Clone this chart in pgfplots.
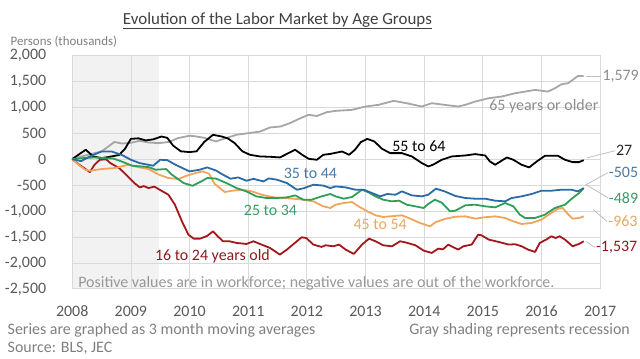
\documentclass[border=0pt]{standalone}
\usepackage{pgfplots}
\pgfplotsset{compat=1.18}
\usepackage{fontspec}
\setmainfont{Carlito}
\definecolor{gridgray}{HTML}{D9D9D9}
\definecolor{shadegray}{HTML}{F2F2F2}
\definecolor{ticktext}{HTML}{595959}
\definecolor{notetext}{HTML}{7F7F7F}
\definecolor{c65}{HTML}{A6A6A6}
\definecolor{c55}{HTML}{000000}
\definecolor{c35}{HTML}{2A6BA6}
\definecolor{c25}{HTML}{2E9E58}
\definecolor{c45}{HTML}{F2A55A}
\definecolor{c16}{HTML}{A3161B}
\definecolor{l35}{HTML}{4A78A8}
\definecolor{l25}{HTML}{3A9A68}
\definecolor{l45}{HTML}{E3A865}
\definecolor{l16}{HTML}{8B1A1E}
\definecolor{l65}{HTML}{8C8C8C}
\definecolor{leader}{HTML}{BFBFBF}

\pgfplotstableread{
x y
2008.00 0
2008.15 50
2008.27 83
2008.50 147
2008.72 330
2008.85 300
2009.00 314
2009.15 352
2009.30 320
2009.47 307
2009.65 330
2009.80 404
2010.00 450
2010.12 435
2010.25 410
2010.45 340
2010.62 404
2010.80 468
2011.00 500
2011.20 530
2011.37 609
2011.55 628
2011.71 692
2011.89 788
2012.03 853
2012.17 830
2012.34 904
2012.50 930
2012.77 949
2013.00 1013
2013.22 1045
2013.48 1122
2013.70 1077
2013.96 1013
2014.13 1077
2014.35 1045
2014.58 1013
2014.70 1045
2014.87 1109
2015.10 1173
2015.32 1205
2015.55 1269
2015.89 1333
2016.11 1301
2016.23 1365
2016.34 1442
2016.45 1461
2016.53 1525
2016.62 1600
2016.72 1600
}\tsixtyfive

\pgfplotstableread{
x y
2008.00 0
2008.10 80
2008.23 180
2008.36 50
2008.50 20
2008.62 40
2008.80 80
2008.90 200
2009.00 390
2009.13 400
2009.25 360
2009.38 380
2009.52 435
2009.62 410
2009.72 260
2009.85 150
2010.00 135
2010.12 150
2010.25 330
2010.40 468
2010.55 435
2010.65 400
2010.77 307
2010.90 150
2011.03 83
2011.20 51
2011.37 45
2011.54 32
2011.66 100
2011.80 180
2011.92 83
2012.03 6
2012.17 -13
2012.28 83
2012.40 100
2012.60 147
2012.72 83
2012.82 180
2012.92 327
2013.03 390
2013.15 340
2013.28 200
2013.42 115
2013.62 115
2013.79 51
2013.96 -77
2014.07 -141
2014.15 -109
2014.30 -13
2014.47 51
2014.70 70
2014.87 96
2015.04 70
2015.12 -45
2015.21 -109
2015.30 -45
2015.41 32
2015.52 -13
2015.66 -109
2015.79 -160
2015.92 -45
2016.06 64
2016.28 64
2016.40 -13
2016.53 -58
2016.64 -58
2016.72 -20
}\tfiftyfive

\pgfplotstableread{
x y
2008.00 0
2008.15 -40
2008.30 51
2008.50 147
2008.67 147
2008.84 83
2009.00 -13
2009.15 -77
2009.38 -128
2009.50 -13
2009.62 -20
2009.76 -109
2010.00 -237
2010.17 -205
2010.30 -160
2010.45 -220
2010.57 -301
2010.70 -378
2010.83 -353
2010.97 -417
2011.09 -380
2011.26 -430
2011.35 -372
2011.49 -397
2011.66 -462
2011.83 -590
2011.95 -560
2012.11 -494
2012.28 -510
2012.40 -558
2012.49 -526
2012.66 -545
2012.83 -590
2012.97 -590
2013.11 -654
2013.25 -718
2013.37 -673
2013.51 -686
2013.62 -622
2013.79 -699
2013.96 -718
2014.07 -686
2014.20 -570
2014.35 -622
2014.53 -710
2014.70 -750
2014.87 -763
2015.04 -763
2015.21 -801
2015.38 -814
2015.49 -750
2015.66 -718
2015.83 -673
2016.00 -609
2016.17 -609
2016.34 -590
2016.51 -590
2016.62 -622
2016.72 -560
}\tthirtyfive

\pgfplotstableread{
x y
2008.00 0
2008.20 20
2008.38 32
2008.55 19
2008.70 10
2008.84 -45
2009.02 -128
2009.17 -141
2009.30 -154
2009.42 -205
2009.60 -192
2009.70 -301
2009.90 -462
2010.05 -514
2010.20 -430
2010.30 -365
2010.45 -375
2010.63 -462
2010.80 -558
2010.97 -622
2011.14 -718
2011.31 -750
2011.48 -750
2011.66 -737
2011.80 -699
2011.94 -782
2012.08 -782
2012.25 -718
2012.40 -673
2012.49 -718
2012.63 -763
2012.77 -730
2012.94 -590
2013.05 -640
2013.17 -718
2013.30 -782
2013.45 -814
2013.57 -800
2013.70 -878
2013.85 -910
2013.99 -942
2014.07 -865
2014.18 -782
2014.30 -840
2014.44 -1006
2014.53 -994
2014.70 -891
2014.87 -878
2015.04 -910
2015.21 -930
2015.38 -846
2015.52 -910
2015.63 -1070
2015.72 -1135
2015.89 -1135
2016.06 -1070
2016.23 -942
2016.40 -878
2016.53 -750
2016.64 -654
2016.72 -560
}\ttwentyfive

\pgfplotstableread{
x y
2008.00 0
2008.12 -120
2008.22 -205
2008.30 -224
2008.50 -192
2008.72 -173
2008.96 -109
2009.12 -154
2009.30 -192
2009.48 -301
2009.64 -365
2009.81 -384
2009.95 -320
2010.10 -269
2010.22 -237
2010.33 -280
2010.43 -480
2010.60 -634
2010.72 -610
2010.89 -590
2011.06 -622
2011.23 -686
2011.43 -737
2011.60 -750
2011.77 -763
2011.94 -782
2012.11 -814
2012.28 -910
2012.40 -942
2012.49 -878
2012.63 -846
2012.77 -827
2012.88 -910
2013.03 -1006
2013.17 -1083
2013.30 -1115
2013.45 -1100
2013.62 -1083
2013.76 -1147
2013.93 -1231
2014.10 -1295
2014.20 -1212
2014.35 -1154
2014.53 -1110
2014.70 -1103
2014.87 -1147
2015.04 -1120
2015.21 -1103
2015.38 -1135
2015.52 -1199
2015.66 -1250
2015.83 -1231
2016.00 -1167
2016.17 -1038
2016.28 -955
2016.36 -942
2016.45 -1058
2016.53 -1147
2016.64 -1135
2016.72 -1103
}\tfortyfive

\pgfplotstableread{
x y
2008.00 0
2008.12 -109
2008.30 -250
2008.38 -109
2008.47 -13
2008.58 -5
2008.65 -77
2008.80 -173
2008.92 -301
2009.06 -462
2009.15 -545
2009.22 -520
2009.30 -558
2009.40 -530
2009.52 -609
2009.64 -686
2009.75 -878
2009.87 -1199
2009.98 -1455
2010.07 -1532
2010.18 -1532
2010.30 -1480
2010.40 -1391
2010.48 -1487
2010.57 -1583
2010.68 -1583
2010.80 -1615
2010.97 -1635
2011.09 -1583
2011.20 -1635
2011.37 -1711
2011.54 -1840
2011.66 -1743
2011.83 -1583
2011.91 -1506
2011.99 -1520
2012.11 -1647
2012.25 -1692
2012.32 -1660
2012.45 -1680
2012.55 -1647
2012.66 -1743
2012.80 -1827
2012.94 -1647
2013.06 -1532
2013.17 -1583
2013.30 -1660
2013.45 -1680
2013.59 -1583
2013.70 -1610
2013.85 -1660
2013.99 -1763
2014.13 -1808
2014.24 -1724
2014.32 -1740
2014.41 -1647
2014.50 -1700
2014.58 -1743
2014.67 -1679
2014.81 -1647
2014.92 -1455
2014.98 -1470
2015.10 -1551
2015.27 -1596
2015.44 -1647
2015.55 -1640
2015.66 -1679
2015.77 -1743
2015.89 -1788
2015.97 -1615
2016.08 -1551
2016.17 -1487
2016.24 -1520
2016.31 -1487
2016.40 -1551
2016.53 -1679
2016.64 -1635
2016.72 -1583
}\tsixteen

\begin{document}
\begin{tikzpicture}[x=1pt,y=1pt]
\path (0,0) rectangle (640,360);
\node[font=\fontsize{17}{19}\selectfont, text=black!75] at (276,339) {\underline{Evolution of the Labor Market by Age Groups}};
\node[anchor=west, font=\fontsize{13}{15}\selectfont, text=notetext, inner sep=0pt] at (8,318.3) {Persons (thousands)};
\node[anchor=west, font=\fontsize{16}{18}\selectfont, text=notetext, inner sep=0pt] at (5,28) {Series are graphed as 3 month moving averages};
\node[anchor=west, font=\fontsize{16}{18}\selectfont, text=notetext, inner sep=0pt] at (5,10) {Source: BLS, JEC};
\node[anchor=east, font=\fontsize{16}{18}\selectfont, text=notetext, inner sep=0pt] at (630,28) {Gray shading represents recession};
\begin{axis}[
  at={(70pt,70pt)}, anchor=south west,
  scale only axis, width=530pt, height=234.5pt,
  xmin=2008, xmax=2017, ymin=-2500, ymax=2000,
  xtick={2008,2009,2010,2011,2012,2013,2014,2015,2016,2017},
  xticklabels={2008,2009,2010,2011,2012,2013,2014,2015,2016,2017},
  ytick={-2500,-2000,-1500,-1000,-500,0,500,1000,1500,2000},
  yticklabels={{-2,500},{-2,000},{-1,500},{-1,000},{-500},{0},{500},{1,000},{1,500},{2,000}},
  grid=major, grid style={gridgray, line width=0.8pt},
  axis line style={gridgray, line width=0.8pt},
  major tick length=0pt,
  tick label style={font=\fontsize{16}{18}\selectfont, text=ticktext},
  yticklabel style={anchor=east, inner sep=5pt, xshift=-21pt},
  xticklabel style={anchor=north, inner sep=5pt, yshift=-12pt},
  clip=false,
  set layers=standard,
  every axis plot/.append style={no marks, line width=1.8pt, line join=round},
]
\addplot[fill=shadegray, draw=none, line width=0pt, on layer=axis background] coordinates {(2008,-2500) (2009.48,-2500) (2009.48,2000) (2008,2000)} -- cycle;
\addplot[c65] table[x=x,y=y] {\tsixtyfive};
\addplot[c55] table[x=x,y=y] {\tfiftyfive};
\addplot[c16] table[x=x,y=y] {\tsixteen};
\addplot[c45] table[x=x,y=y] {\tfortyfive};
\addplot[c25] table[x=x,y=y] {\ttwentyfive};
\addplot[c35] table[x=x,y=y] {\tthirtyfive};

\begin{scope}[font=\fontsize{16}{18}\selectfont]
\node[text=l65] at (axis cs:2016.04,1009) {65 years or older};
\node[text=black] at (axis cs:2013.91,242) {55 to 64};
\node[text=l35] at (axis cs:2012.06,-282) {35 to 44};
\node[text=l25] at (axis cs:2011.38,-986) {25 to 34};
\node[text=l45] at (axis cs:2013.25,-1261) {45 to 54};
\node[text=l16] at (axis cs:2010.39,-1869) {16 to 24 years old};
\node[text=l65!90, anchor=west, inner sep=0pt] at (axis cs:2008.1,-2393) {Positive values are in workforce; negative values are out of the workforce.};
\draw[leader, line width=0.8pt] (axis cs:2016.76,1598) -- (axis cs:2017.02,1598);
\draw[leader, line width=0.8pt] (axis cs:2016.78,25) -- (axis cs:2017.25,160);
\draw[leader, line width=0.8pt] (axis cs:2017.13,-263) -- (axis cs:2016.76,-493) -- (axis cs:2017.13,-743);
\draw[leader, line width=0.8pt] (axis cs:2016.88,-973) -- (axis cs:2017.12,-1203);
\draw[leader, line width=0.8pt] (axis cs:2016.76,-1587) -- (axis cs:2016.91,-1702);
\node[text=l65, anchor=west, inner sep=1pt] at (axis cs:2017.02,1598) {1,579};
\node[text=black!85, anchor=west, inner sep=1pt] at (axis cs:2017.25,160) {27};
\node[text=l35, anchor=west, inner sep=1pt] at (axis cs:2017.13,-263) {-505};
\node[text=l25, anchor=west, inner sep=1pt] at (axis cs:2017.13,-743) {-489};
\node[text=l45, anchor=west, inner sep=1pt] at (axis cs:2017.12,-1203) {-963};
\node[text=l16, anchor=west, inner sep=1pt] at (axis cs:2016.91,-1702) {-1,537};
\end{scope}
\end{axis}
\end{tikzpicture}
\end{document}
